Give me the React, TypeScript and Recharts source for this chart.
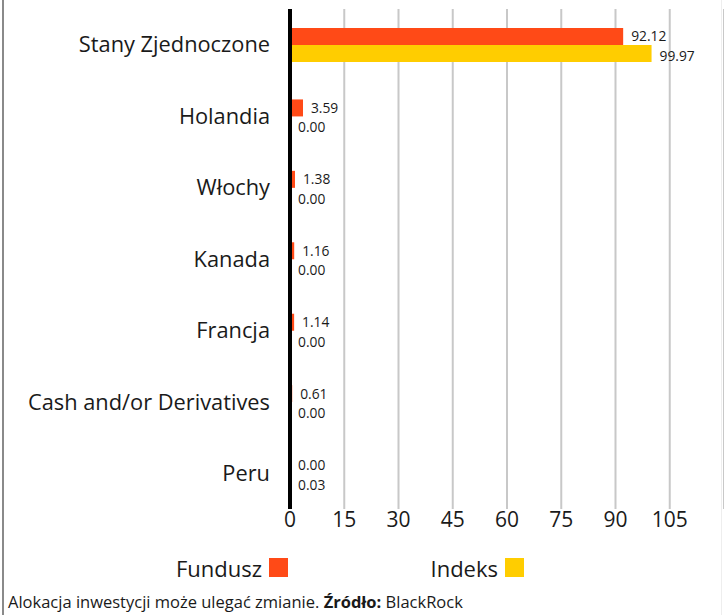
import React from 'react';
import {
  BarChart,
  Bar,
  XAxis,
  YAxis,
  CartesianGrid,
  LabelList,
} from 'recharts';

const countries = [
  'Stany Zjednoczone',
  'Holandia',
  'Włochy',
  'Kanada',
  'Francja',
  'Cash and/or Derivatives',
  'Peru',
];
const fundValues = [92.12, 3.59, 1.38, 1.16, 1.14, 0.61, 0.0];
const indexValues = [99.97, 0.0, 0.0, 0.0, 0.0, 0.0, 0.03];
const xTicks = [0, 15, 30, 45, 60, 75, 90, 105];

const FUND_COLOR = '#ff4a17';
const INDEX_COLOR = '#ffcd00';
const FONT = '"Open Sans", Roboto, sans-serif';

const data = countries.map((name, i) => ({
  name,
  fund: fundValues[i],
  index: indexValues[i],
}));

// zero-width bars still need their value printed
const ValueLabel = (props: any) => {
  const { x, y, width, height, value, shift = 0 } = props;
  if (value == null) return null;
  return (
    <text
      x={Number(x) + Math.max(Number(width) || 0, 0) + 8}
      y={Number(y) + Number(height) / 2 + shift}
      dy="0.36em"
      fontSize={13.8}
      fill="#1a1a1a"
      fontFamily={FONT}
    >
      {Number(value).toFixed(2)}
    </text>
  );
};

// keep a hair-thin rect for 0 so the label still gets an entry
const tinyForZero = (value: any) => (Number(value) === 0 ? 0.01 : 0);

export default function App() {
  return (
    <div
      style={{
        position: 'absolute',
        left: 0,
        top: 0,
        width: 724,
        height: 615,
        background: '#fff',
        fontFamily: FONT,
        overflow: 'hidden',
      }}
    >
      <div style={{ position: 'absolute', left: 2, top: 0, width: 2, height: 615, background: '#8a8a8a' }} />
      <div style={{ position: 'absolute', left: 721, top: 0, width: 1, height: 615, background: '#eeeeee' }} />
      <BarChart
        width={724}
        height={541}
        data={data}
        layout="vertical"
        margin={{ top: 9, right: 0, bottom: 0, left: 0 }}
        barSize={17}
        barGap={0}
      >
        <CartesianGrid horizontal={false} stroke="#c8c8c8" strokeWidth={2} />
        <XAxis
          type="number"
          domain={[0, 120]}
          ticks={xTicks}
          axisLine={false}
          tickLine={false}
          tickSize={0}
          tickMargin={3}
          height={32}
          tick={{ fontSize: 21, fill: '#1a1a1a', fontFamily: FONT }}
        />
        <YAxis
          type="category"
          dataKey="name"
          width={290}
          axisLine={{ stroke: '#000', strokeWidth: 4 }}
          tickLine={false}
          tickSize={0}
          tickMargin={20}
          tick={{ fontSize: 21.8, fill: '#1a1a1a', fontFamily: FONT }}
        />
        <Bar dataKey="fund" fill={FUND_COLOR} minPointSize={tinyForZero} isAnimationActive={false}>
          <LabelList dataKey="fund" content={(p: any) => <ValueLabel {...p} shift={0} />} />
        </Bar>
        <Bar dataKey="index" fill={INDEX_COLOR} minPointSize={tinyForZero} isAnimationActive={false}>
          <LabelList dataKey="index" content={(p: any) => <ValueLabel {...p} shift={2.5} />} />
        </Bar>
      </BarChart>
      <div style={{ position: 'absolute', top: 553, left: 0, width: 724, height: 28, fontSize: 22, color: '#1a1a1a' }}>
        <span style={{ position: 'absolute', right: 724 - 262, top: 0 }}>Fundusz</span>
        <span style={{ position: 'absolute', left: 269, top: 5, width: 19, height: 19, background: FUND_COLOR }} />
        <span style={{ position: 'absolute', right: 724 - 498, top: 0 }}>Indeks</span>
        <span style={{ position: 'absolute', left: 505, top: 5, width: 19, height: 19, background: INDEX_COLOR }} />
      </div>
      <div style={{ position: 'absolute', top: 590, left: 8, fontSize: 16.5, color: '#1a1a1a', whiteSpace: 'nowrap' }}>
        Alokacja inwestycji może ulegać zmianie. <b>Źródło:</b> BlackRock
      </div>
    </div>
  );
}
